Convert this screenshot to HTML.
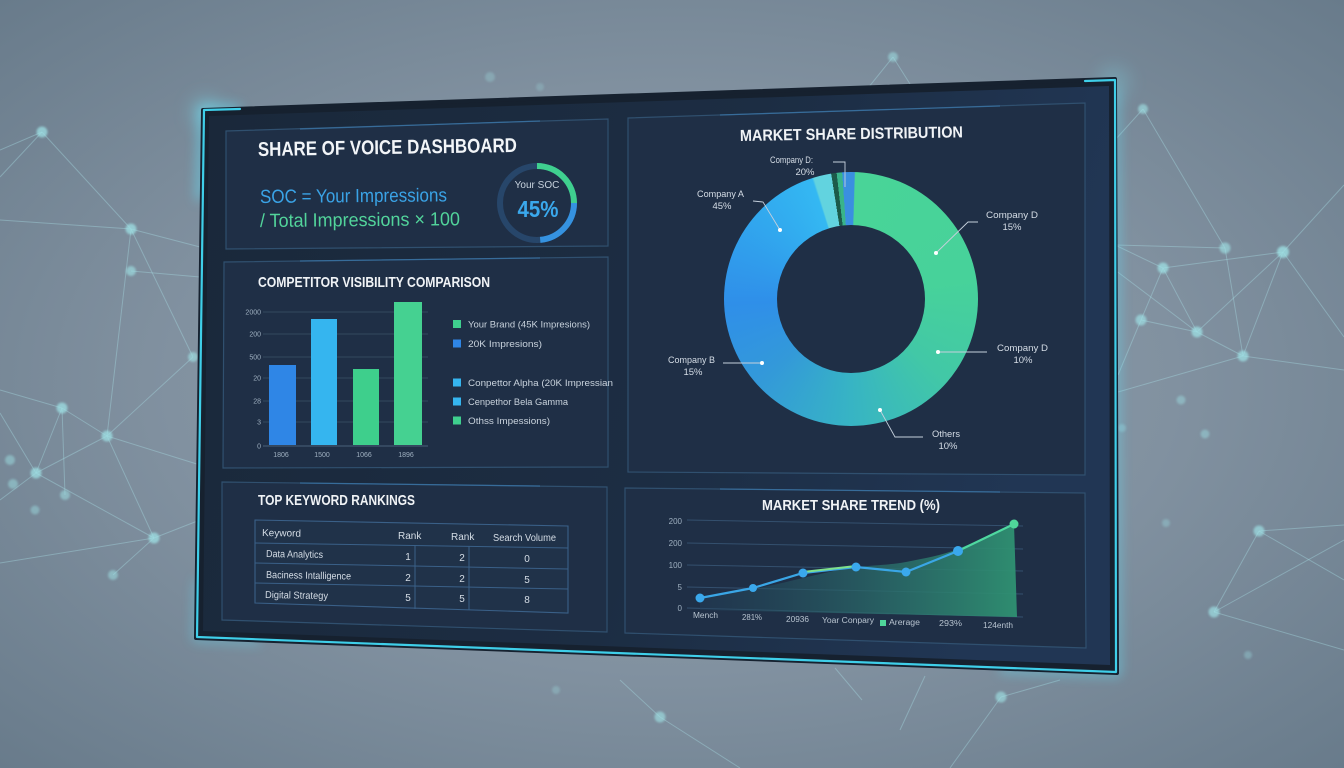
<!DOCTYPE html>
<html><head><meta charset="utf-8">
<style>
html,body{margin:0;padding:0;width:1344px;height:768px;overflow:hidden;}
body{position:relative;background:#76889a;font-family:"Liberation Sans",sans-serif;}
svg{position:absolute;left:0;top:0;}
#donut{position:absolute;left:724px;top:172px;width:254px;height:254px;border-radius:50%;
background:conic-gradient(from 0deg,#3a8fe0 0deg 1.5deg,#49d498 2deg,#47d29a 80deg,#42c8a6 130deg,#37b4c4 180deg,#3399d9 228deg,#2f8fe9 268deg,#31a7ee 310deg,#34b8f2 342deg,#62d3df 343deg 351deg,#1c5a4a 351deg 353.5deg,#39b48a 353.5deg 356deg,#3a8fe0 356deg 360deg);}
#hole{position:absolute;left:53px;top:53px;width:148px;height:148px;border-radius:50%;background:#1f2f46;}
</style></head><body>
<svg width="1344" height="768" viewBox="0 0 1344 768" font-family="Liberation Sans, sans-serif">
<defs>
<radialGradient id="bgg" cx="0.5" cy="0.5" r="0.75">
<stop offset="0" stop-color="#8e9fad"/><stop offset="0.5" stop-color="#8191a0"/><stop offset="1" stop-color="#657888"/>
</radialGradient>
<linearGradient id="sg" x1="0" y1="0" x2="1" y2="0.2">
<stop offset="0" stop-color="#1a283a"/><stop offset="0.6" stop-color="#1c2d43"/><stop offset="1" stop-color="#213654"/>
</linearGradient>
<linearGradient id="ag" x1="0" y1="0" x2="1" y2="0">
<stop offset="0" stop-color="#23405a" stop-opacity="0.4"/><stop offset="0.6" stop-color="#2a6e6a" stop-opacity="0.8"/><stop offset="1" stop-color="#2f9272" stop-opacity="0.95"/>
</linearGradient>
<filter id="blur1" x="-50%" y="-50%" width="200%" height="200%"><feGaussianBlur stdDeviation="1"/></filter>
<filter id="glow" x="-50%" y="-50%" width="200%" height="200%"><feGaussianBlur stdDeviation="6"/></filter>
<filter id="glow2" x="-100%" y="-100%" width="300%" height="300%"><feGaussianBlur stdDeviation="10"/></filter>
</defs>
<rect width="1344" height="768" fill="url(#bgg)"/>

<!-- network lines -->
<g stroke="#a8dde3" stroke-opacity="0.4" stroke-width="1" fill="none">
<line x1="0" y1="150" x2="42" y2="132"/><line x1="42" y1="132" x2="0" y2="177"/>
<line x1="42" y1="132" x2="131" y2="229"/><line x1="0" y1="220" x2="131" y2="229"/>
<line x1="131" y1="229" x2="200" y2="247"/><line x1="131" y1="229" x2="193" y2="357"/>
<line x1="131" y1="229" x2="107" y2="436"/><line x1="131" y1="271" x2="200" y2="277"/>
<line x1="193" y1="357" x2="107" y2="436"/><line x1="0" y1="390" x2="62" y2="408"/>
<line x1="62" y1="408" x2="107" y2="436"/><line x1="62" y1="408" x2="36" y2="473"/>
<line x1="62" y1="408" x2="65" y2="495"/><line x1="107" y1="436" x2="36" y2="473"/>
<line x1="107" y1="436" x2="154" y2="538"/><line x1="36" y1="473" x2="154" y2="538"/>
<line x1="36" y1="473" x2="0" y2="500"/><line x1="0" y1="413" x2="36" y2="473"/>
<line x1="154" y1="538" x2="200" y2="520"/><line x1="0" y1="563" x2="154" y2="538"/>
<line x1="107" y1="436" x2="200" y2="465"/><line x1="113" y1="575" x2="154" y2="538"/>
<line x1="1283" y1="252" x2="1344" y2="185"/><line x1="1283" y1="252" x2="1344" y2="337"/>
<line x1="1283" y1="252" x2="1163" y2="268"/><line x1="1283" y1="252" x2="1197" y2="332"/>
<line x1="1283" y1="252" x2="1243" y2="356"/><line x1="1225" y1="248" x2="1115" y2="245"/>
<line x1="1225" y1="248" x2="1243" y2="356"/><line x1="1143" y1="109" x2="1225" y2="248"/>
<line x1="1143" y1="109" x2="1115" y2="140"/><line x1="1163" y1="268" x2="1141" y2="320"/>
<line x1="1163" y1="268" x2="1197" y2="332"/><line x1="1163" y1="268" x2="1115" y2="245"/>
<line x1="1141" y1="320" x2="1197" y2="332"/><line x1="1141" y1="320" x2="1118" y2="375"/>
<line x1="1197" y1="332" x2="1243" y2="356"/><line x1="1197" y1="332" x2="1115" y2="270"/>
<line x1="1243" y1="356" x2="1344" y2="370"/><line x1="1243" y1="356" x2="1118" y2="392"/>
<line x1="1259" y1="531" x2="1344" y2="525"/><line x1="1259" y1="531" x2="1214" y2="612"/>
<line x1="1214" y1="612" x2="1344" y2="540"/><line x1="1214" y1="612" x2="1344" y2="650"/>
<line x1="1259" y1="531" x2="1344" y2="580"/>
<line x1="893" y1="57" x2="868" y2="88"/><line x1="893" y1="57" x2="910" y2="84"/>
<line x1="620" y1="680" x2="660" y2="717"/><line x1="660" y1="717" x2="740" y2="768"/>
<line x1="1001" y1="697" x2="950" y2="768"/><line x1="1001" y1="697" x2="1060" y2="680"/>
<line x1="835" y1="668" x2="862" y2="700"/><line x1="925" y1="676" x2="900" y2="730"/>
</g>
<g fill="#9ee0e4" filter="url(#blur1)">
<circle cx="42" cy="132" r="5.5" opacity="0.75"/><circle cx="131" cy="229" r="5.5" opacity="0.75"/>
<circle cx="131" cy="271" r="5" opacity="0.65"/><circle cx="193" cy="357" r="5" opacity="0.65"/>
<circle cx="62" cy="408" r="5.5" opacity="0.75"/><circle cx="107" cy="436" r="5.5" opacity="0.75"/>
<circle cx="36" cy="473" r="5.5" opacity="0.75"/><circle cx="10" cy="460" r="5" opacity="0.5"/>
<circle cx="13" cy="484" r="5" opacity="0.5"/><circle cx="65" cy="495" r="5" opacity="0.55"/>
<circle cx="35" cy="510" r="4.5" opacity="0.45"/><circle cx="154" cy="538" r="5.5" opacity="0.75"/>
<circle cx="113" cy="575" r="5" opacity="0.55"/>
<circle cx="1143" cy="109" r="5" opacity="0.65"/><circle cx="1225" cy="248" r="5.5" opacity="0.65"/>
<circle cx="1283" cy="252" r="6" opacity="0.8"/><circle cx="1163" cy="268" r="5.5" opacity="0.75"/>
<circle cx="1141" cy="320" r="5.5" opacity="0.7"/><circle cx="1197" cy="332" r="5.5" opacity="0.75"/>
<circle cx="1243" cy="356" r="5.5" opacity="0.75"/><circle cx="1181" cy="400" r="4.5" opacity="0.45"/>
<circle cx="1205" cy="434" r="4.5" opacity="0.45"/><circle cx="1122" cy="428" r="4" opacity="0.35"/>
<circle cx="1166" cy="523" r="4" opacity="0.35"/><circle cx="1259" cy="531" r="5.5" opacity="0.7"/>
<circle cx="1214" cy="612" r="5.5" opacity="0.7"/><circle cx="1248" cy="655" r="4" opacity="0.35"/>
<circle cx="893" cy="57" r="5" opacity="0.55"/><circle cx="490" cy="77" r="5" opacity="0.3"/>
<circle cx="540" cy="87" r="4" opacity="0.25"/>
<circle cx="660" cy="717" r="5.5" opacity="0.65"/><circle cx="1001" cy="697" r="5.5" opacity="0.65"/>
<circle cx="556" cy="690" r="4" opacity="0.3"/>
</g>

<!-- screen glow (selective) -->
<g fill="none" stroke="#5fe6ff" filter="url(#glow)" opacity="0.6">
<polyline points="240,109 203,110 200,200" stroke-width="8"/>
<line x1="1116" y1="90" x2="1117" y2="660" stroke-width="6"/>
<polyline points="1000,669 1117,673 1117,620" stroke-width="6"/>
<polyline points="198,580 196,638 260,641" stroke-width="5"/>
</g>
<circle cx="206" cy="112" r="14" fill="#7ff0ff" opacity="0.35" filter="url(#glow2)"/>
<circle cx="1114" cy="82" r="14" fill="#7ff0ff" opacity="0.3" filter="url(#glow2)"/>

<!-- screen body -->
<polygon points="203,110 1115,79 1117,673 196,638" fill="#16212f" stroke="#16212f" stroke-width="4" stroke-linejoin="round"/>
<!-- cyan edges: left, right, bottom; top only near corners -->
<g fill="none" stroke="#3fcfe9" stroke-width="2.2" stroke-linejoin="round" stroke-linecap="round">
<polyline points="240,109 204,110 197,637 1116,672 1115,80 1085,81"/>
</g>
<polygon points="209,116 1109,86 1110,665 203,631" fill="url(#sg)"/>

<!-- panels -->
<g fill="#1f2f46" stroke="#30506f" stroke-width="1.2">
<polygon points="226,131 608,119 608,246 226,249"/>
<polygon points="224,262 608,257 608,467 223,468"/>
<polygon points="222,482 607,487 607,632 222,620"/>
<polygon points="628,118 1085,103 1085,475 628,472"/>
<polygon points="625,488 1085,493 1086,648 625,633"/>
</g>
<g stroke="#3b79ad" stroke-width="1.2" opacity="0.7">
<line x1="300" y1="129" x2="540" y2="121"/>
<line x1="300" y1="261" x2="540" y2="258"/>
<line x1="300" y1="483" x2="540" y2="486"/>
<line x1="720" y1="115" x2="1000" y2="106"/>
<line x1="720" y1="489" x2="1000" y2="492"/>
</g>

<!-- panel 1 -->
<text x="258" y="156" font-size="20" font-weight="bold" fill="#f2f5f8" textLength="259" lengthAdjust="spacingAndGlyphs" transform="rotate(-0.9 258 156)">SHARE OF VOICE DASHBOARD</text>
<text x="260" y="203" font-size="19" fill="#3aa3e6" textLength="187" lengthAdjust="spacingAndGlyphs" transform="rotate(-0.5 260 203)">SOC = Your Impressions</text>
<text x="260" y="227" font-size="19" fill="#52d49b" textLength="200" lengthAdjust="spacingAndGlyphs" transform="rotate(-0.5 260 227)">/ Total Impressions × 100</text>
<circle cx="537" cy="203" r="37" fill="none" stroke="#27466a" stroke-width="6"/>
<path d="M537,166 A37,37 0 0 1 574,203" fill="none" stroke="#3fd08f" stroke-width="6"/>
<path d="M574,203 A37,37 0 0 1 540.2,239.9" fill="none" stroke="#3592e0" stroke-width="6"/>
<text x="537" y="188" font-size="10" fill="#c8d3de" text-anchor="middle">Your SOC</text>
<text x="538" y="217" font-size="23" font-weight="bold" fill="#3aa8ec" text-anchor="middle" textLength="41" lengthAdjust="spacingAndGlyphs">45%</text>

<!-- panel 2 -->
<text x="258" y="287" font-size="15" font-weight="bold" fill="#f0f3f6" textLength="232" lengthAdjust="spacingAndGlyphs">COMPETITOR VISIBILITY COMPARISON</text>
<g stroke="#33485f" stroke-width="1">
<line x1="263" y1="312" x2="428" y2="312"/><line x1="263" y1="334" x2="428" y2="334"/>
<line x1="263" y1="357" x2="428" y2="357"/><line x1="263" y1="378" x2="428" y2="378"/>
<line x1="263" y1="401" x2="428" y2="401"/><line x1="263" y1="422" x2="428" y2="422"/>
<line x1="263" y1="446" x2="428" y2="446" stroke="#4a6079"/>
</g>
<g font-size="7" fill="#9fb0c0" text-anchor="end">
<text x="261" y="314.5">2000</text><text x="261" y="336.5">200</text><text x="261" y="359.5">500</text>
<text x="261" y="380.5">20</text><text x="261" y="403.5">28</text><text x="261" y="424.5">3</text><text x="261" y="448.5">0</text>
</g>
<rect x="269" y="365" width="27" height="80" fill="#2f86e6"/>
<rect x="311" y="319" width="26" height="126" fill="#35b5ef"/>
<rect x="353" y="369" width="26" height="76" fill="#3ecf8c"/>
<rect x="394" y="302" width="28" height="143" fill="#45d191"/>
<g font-size="7" fill="#9fb0c0" text-anchor="middle">
<text x="281" y="457">1806</text><text x="322" y="457">1500</text><text x="364" y="457">1066</text><text x="406" y="457">1896</text>
</g>
<rect x="453" y="320" width="8" height="8" fill="#3fcf8e"/>
<rect x="453" y="339.5" width="8" height="8" fill="#2f86e6"/>
<rect x="453" y="378.5" width="8" height="8" fill="#35b5ef"/>
<rect x="453" y="397.5" width="8" height="8" fill="#35b5ef"/>
<rect x="453" y="416.5" width="8" height="8" fill="#3fcf8e"/>
<g font-size="9.5" fill="#c9d3dd">
<text x="468" y="327.5" textLength="122" lengthAdjust="spacingAndGlyphs">Your Brand (45K Impresions)</text>
<text x="468" y="347" textLength="74" lengthAdjust="spacingAndGlyphs">20K Impresions)</text>
<text x="468" y="386" textLength="145" lengthAdjust="spacingAndGlyphs">Conpettor Alpha (20K Impressian</text>
<text x="468" y="405" textLength="100" lengthAdjust="spacingAndGlyphs">Cenpethor Bela Gamma</text>
<text x="468" y="424" textLength="82" lengthAdjust="spacingAndGlyphs">Othss Impessions)</text>
</g>

<!-- panel 3 -->
<text x="258" y="505" font-size="15" font-weight="bold" fill="#f0f3f6" textLength="157" lengthAdjust="spacingAndGlyphs">TOP KEYWORD RANKINGS</text>
<polygon points="255,520 568,526 568,613 255,603" fill="#203249" stroke="#3a6088" stroke-width="1.1"/>
<g stroke="#3a6088" stroke-width="1">
<line x1="255" y1="543" x2="568" y2="548"/>
<line x1="255" y1="563" x2="568" y2="569"/>
<line x1="255" y1="583" x2="568" y2="589"/>
<line x1="415" y1="545" x2="415" y2="609"/>
<line x1="469" y1="546" x2="469" y2="610"/>
</g>
<g font-size="10" fill="#d5dde6">
<text x="262" y="536" transform="rotate(1 262 536)">Keyword</text>
<text x="398" y="539">Rank</text><text x="451" y="540">Rank</text>
<text x="493" y="541" textLength="63" lengthAdjust="spacingAndGlyphs">Search Volume</text>
<text x="266" y="557" textLength="57" lengthAdjust="spacingAndGlyphs" transform="rotate(1 266 557)">Data Analytics</text>
<text x="266" y="578" textLength="85" lengthAdjust="spacingAndGlyphs" transform="rotate(1 266 578)">Baciness Intalligence</text>
<text x="265" y="598" textLength="63" lengthAdjust="spacingAndGlyphs" transform="rotate(1 265 598)">Digital Strategy</text>
</g>
<g font-size="10" fill="#d5dde6" text-anchor="middle">
<text x="408" y="560">1</text><text x="462" y="561">2</text><text x="527" y="562">0</text>
<text x="408" y="581">2</text><text x="462" y="582">2</text><text x="527" y="583">5</text>
<text x="408" y="601">5</text><text x="462" y="602">5</text><text x="527" y="603">8</text>
</g>

<!-- panel 4 title -->
<text x="740" y="141" font-size="16" font-weight="bold" fill="#f0f3f6" textLength="223" lengthAdjust="spacingAndGlyphs" transform="rotate(-0.95 740 141)">MARKET SHARE DISTRIBUTION</text>

<!-- panel 5 -->
<text x="762" y="510" font-size="15" font-weight="bold" fill="#f0f3f6" textLength="178" lengthAdjust="spacingAndGlyphs">MARKET SHARE TREND (%)</text>
<g stroke="#34506e" stroke-width="1">
<line x1="687" y1="520" x2="1023" y2="526"/><line x1="687" y1="543" x2="1023" y2="549"/>
<line x1="687" y1="565" x2="1023" y2="571"/><line x1="687" y1="587" x2="1023" y2="594"/>
<line x1="687" y1="608" x2="1023" y2="617"/>
</g>
<g font-size="8" fill="#9fb0c0" text-anchor="end">
<text x="682" y="524">200</text><text x="682" y="546">200</text><text x="682" y="568">100</text><text x="682" y="590">5</text><text x="682" y="611">0</text>
</g>
<path d="M700,598 C720,595 740,591 753,589 C775,585 790,581 803,578 C825,573 840,569 856,567 C875,565 890,565 906,562 C925,558 940,556 958,549 C980,540 1000,532 1014,524 L1017,617 L700,610 Z" fill="url(#ag)"/>
<polyline points="700,598 753,588 803,573 856,567 906,572 958,551" fill="none" stroke="#3aa6e6" stroke-width="2.2"/>
<line x1="803" y1="572" x2="856" y2="566" stroke="#7fe08c" stroke-width="2"/>
<line x1="958" y1="551" x2="1014" y2="524" stroke="#4fd8a0" stroke-width="2.2"/>
<g fill="#3aa8ec">
<circle cx="700" cy="598" r="4.5"/><circle cx="753" cy="588" r="4"/><circle cx="803" cy="573" r="4.5"/>
<circle cx="856" cy="567" r="4.5"/><circle cx="906" cy="572" r="4.5"/><circle cx="958" cy="551" r="5"/>
</g>
<circle cx="1014" cy="524" r="4.5" fill="#4fd69a"/>
<g font-size="8" fill="#b8c4d0">
<text x="693" y="618" textLength="25" lengthAdjust="spacingAndGlyphs">Mench</text>
<text x="742" y="620" textLength="20" lengthAdjust="spacingAndGlyphs">281%</text>
<text x="786" y="622" textLength="23" lengthAdjust="spacingAndGlyphs">20936</text>
<text x="822" y="623" textLength="52" lengthAdjust="spacingAndGlyphs">Yoar Conpary</text>
<text x="889" y="625" textLength="31" lengthAdjust="spacingAndGlyphs">Arerage</text>
<text x="939" y="626" textLength="23" lengthAdjust="spacingAndGlyphs">293%</text>
<text x="983" y="628" textLength="30" lengthAdjust="spacingAndGlyphs">124enth</text>
</g>
<rect x="880" y="620" width="6" height="6" fill="#4fd69a"/>
</svg>

<div id="donut"><div id="hole"></div></div>

<svg width="1344" height="768" viewBox="0 0 1344 768" font-family="Liberation Sans, sans-serif">
<g stroke="#c5d0dc" stroke-width="0.9" fill="none">
<polyline points="833,162 845,162 845,187"/>
<polyline points="753,201 763,202 780,230"/>
<polyline points="978,222 968,222 936,253"/>
<line x1="938" y1="352" x2="987" y2="352"/>
<line x1="723" y1="363" x2="762" y2="363"/>
<polyline points="880,410 895,437 923,437"/>
</g>
<g fill="#ffffff">
<circle cx="780" cy="230" r="2"/><circle cx="936" cy="253" r="2"/><circle cx="938" cy="352" r="2"/>
<circle cx="762" cy="363" r="2"/><circle cx="880" cy="410" r="2"/>
</g>
<g font-size="9.5" fill="#d5dde6">
<text x="770" y="163" textLength="43" lengthAdjust="spacingAndGlyphs">Company D:</text>
<text x="805" y="175" text-anchor="middle">20%</text>
<text x="697" y="197" textLength="47" lengthAdjust="spacingAndGlyphs">Company A</text>
<text x="722" y="209" text-anchor="middle">45%</text>
<text x="986" y="218" textLength="52" lengthAdjust="spacingAndGlyphs">Company D</text>
<text x="1012" y="230" text-anchor="middle">15%</text>
<text x="997" y="351" textLength="51" lengthAdjust="spacingAndGlyphs">Company D</text>
<text x="1023" y="363" text-anchor="middle">10%</text>
<text x="668" y="363" textLength="47" lengthAdjust="spacingAndGlyphs">Company B</text>
<text x="693" y="375" text-anchor="middle">15%</text>
<text x="932" y="437" textLength="28" lengthAdjust="spacingAndGlyphs">Others</text>
<text x="948" y="449" text-anchor="middle">10%</text>
</g>
</svg>
</body></html>
